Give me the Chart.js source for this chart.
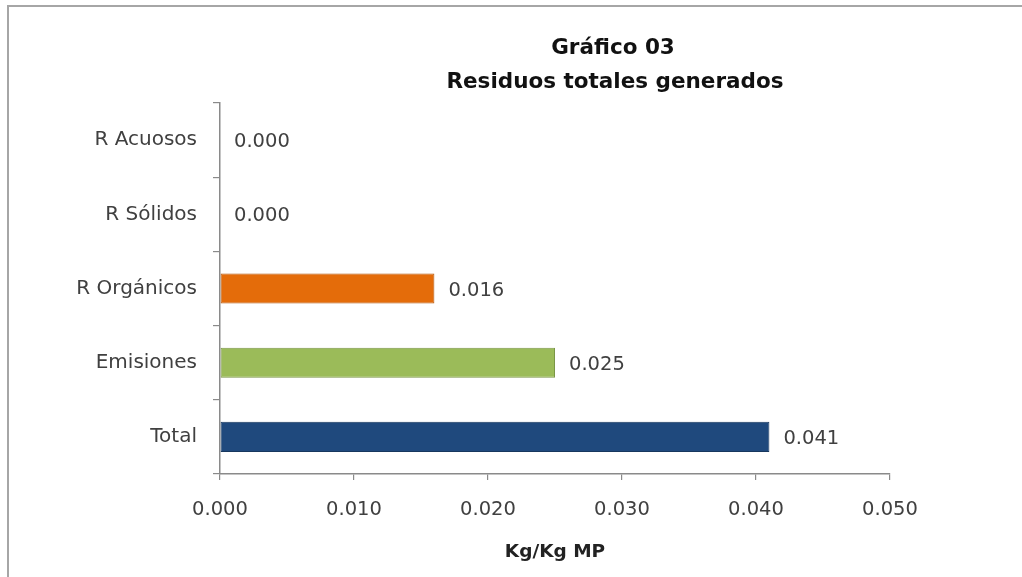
<!DOCTYPE html>
<html>
<head>
<meta charset="utf-8">
<script src="https://cdn.jsdelivr.net/npm/chart.js@4.4.1/dist/chart.umd.min.js"></script>
<style>
  html, body { margin: 0; padding: 0; background: #ffffff; overflow: hidden; }
  #wrap { position: relative; width: 1022px; height: 577px; overflow: hidden; }
  #frame {
    position: absolute; left: 7px; top: 5px; width: 1100px; height: 700px;
    border: 2px solid #a6a6a6; box-sizing: border-box;
  }
  #chart { position: absolute; left: 0; top: 0; }
</style>
</head>
<body>
<div id="wrap">
  <div id="frame"></div>
  <canvas id="chart" width="1022" height="577"></canvas>
</div>
<script>
// Residue categories, top to bottom
const categories = ['R Acuosos', 'R Sólidos', 'R Orgánicos', 'Emisiones', 'Total'];
// Kg of residue per Kg of raw material
const values = [0.000, 0.000, 0.016, 0.025, 0.041];
const barColors = ['#8064A2', '#4BACC6', '#E46C0A', '#9BBB59', '#1F497D'];
const barBorders = ['#5F4B7A', '#357D91', '#B4560A', '#7A9646', '#17375E'];
const xTickLabels = ['0.000', '0.010', '0.020', '0.030', '0.040', '0.050'];
const titleLines = ['Gráfico 03', 'Residuos totales generados'];
const axisTitle = 'Kg/Kg MP';

const FONT = "'DejaVu Sans', sans-serif";
const TEXT = '#404040';
const AXIS = '#8a8a8a';

// Two-line heading drawn above the plot
const headingPlugin = {
  id: 'heading',
  afterDraw(chart) {
    const ctx = chart.ctx;
    ctx.save();
    ctx.font = 'bold 21.5px ' + FONT;
    ctx.fillStyle = '#111111';
    ctx.textAlign = 'center';
    ctx.textBaseline = 'middle';
    ctx.fillText(titleLines[0], 613, 48);
    ctx.fillText(titleLines[1], 615, 82);
    ctx.restore();
  }
};

// Value printed to the right of each bar
const valueLabelPlugin = {
  id: 'valueLabels',
  afterDatasetsDraw(chart) {
    const ctx = chart.ctx;
    const meta = chart.getDatasetMeta(0);
    ctx.save();
    ctx.font = '19.5px ' + FONT;
    ctx.fillStyle = TEXT;
    ctx.textAlign = 'left';
    ctx.textBaseline = 'middle';
    meta.data.forEach((bar, i) => {
      const v = chart.data.datasets[0].data[i];
      ctx.fillText(v.toFixed(3), bar.x + 14, bar.y + 2);
    });
    ctx.restore();
  }
};

new Chart(document.getElementById('chart'), {
  type: 'bar',
  data: {
    labels: categories,
    datasets: [{
      data: values,
      backgroundColor: barColors,
      borderColor: barBorders,
      borderWidth: 1,
      borderSkipped: false,
      barPercentage: 0.405,
      categoryPercentage: 1.0
    }]
  },
  options: {
    indexAxis: 'y',
    responsive: false,
    animation: false,
    devicePixelRatio: 1,
    layout: { padding: { left: 10, top: 103, right: 132, bottom: 0 } },
    plugins: {
      legend: { display: false },
      title: { display: false },
      tooltip: { enabled: false }
    },
    scales: {
      x: {
        type: 'linear',
        min: 0,
        max: 0.05,
        afterFit(scale) { scale.height = 103; },
        ticks: {
          stepSize: 0.01,
          color: TEXT,
          font: { family: FONT, size: 19.5 },
          padding: 18,
          maxRotation: 0,
          callback: (v, i) => xTickLabels[i]
        },
        grid: {
          drawOnChartArea: false,
          drawTicks: true,
          tickLength: 6,
          color: AXIS,
          lineWidth: 1.2
        },
        border: { display: true, color: AXIS, width: 1.5 },
        title: {
          display: true,
          text: axisTitle,
          color: '#222222',
          font: { family: FONT, size: 18.5, weight: 'bold' },
          padding: { top: 0, bottom: 14 }
        }
      },
      y: {
        type: 'category',
        offset: true,
        afterFit(scale) { scale.width = 210; },
        ticks: {
          color: TEXT,
          font: { family: FONT, size: 20 },
          padding: 16
        },
        grid: {
          offset: true,
          drawOnChartArea: false,
          drawTicks: true,
          tickLength: 7,
          color: AXIS,
          lineWidth: 1.2
        },
        border: { display: true, color: AXIS, width: 1.5 }
      }
    }
  },
  plugins: [headingPlugin, valueLabelPlugin]
});
</script>
</body>
</html>
